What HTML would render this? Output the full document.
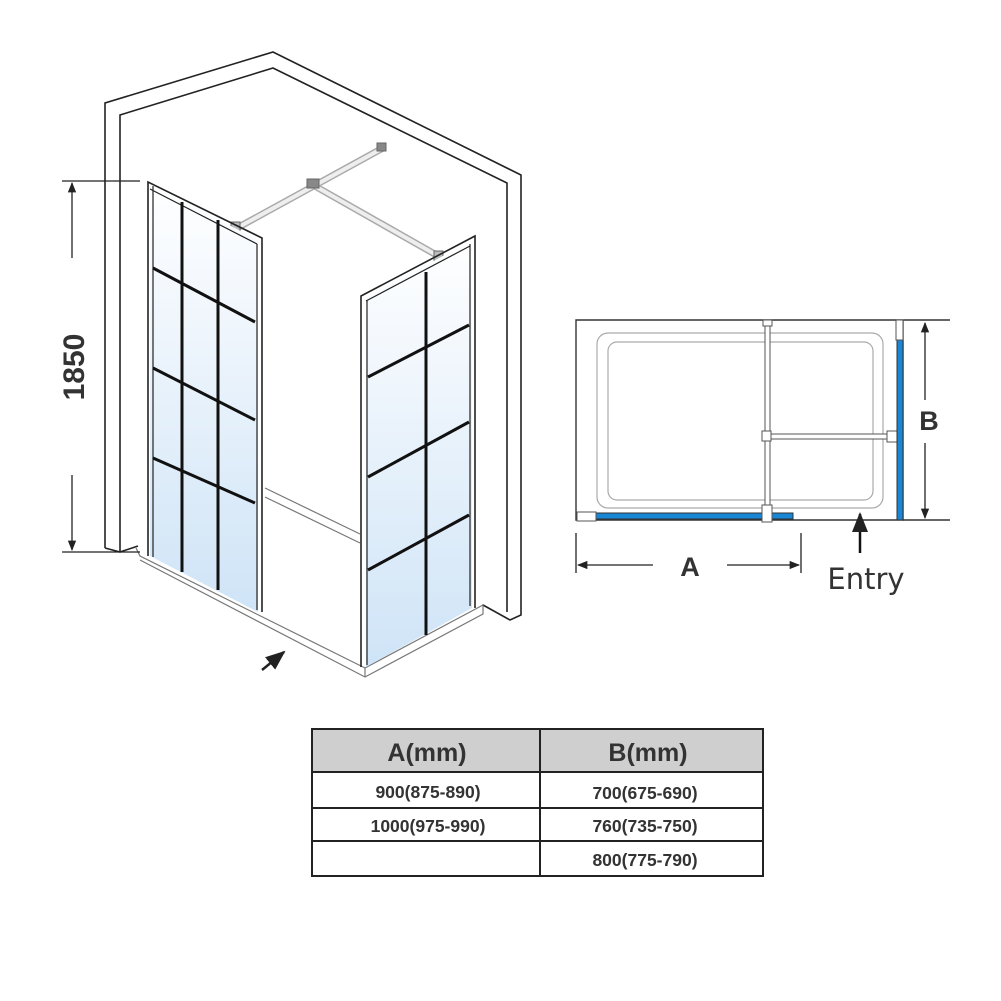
<!DOCTYPE html>
<html><head><meta charset="utf-8"><style>
html,body{margin:0;padding:0;background:#fff;width:1001px;height:1001px;overflow:hidden}
svg{display:block}
</style></head><body>
<svg width="1001" height="1001" viewBox="0 0 1001 1001" xmlns="http://www.w3.org/2000/svg">
<defs>
<linearGradient id="g" x1="0" y1="0" x2="0" y2="1">
<stop offset="0" stop-color="#ffffff"/><stop offset="0.35" stop-color="#eef5fc"/><stop offset="1" stop-color="#cfe4f7"/>
</linearGradient>
<marker id="ah" viewBox="0 0 10 10" refX="9" refY="5" markerWidth="8" markerHeight="8" orient="auto-start-reverse"><path d="M0,1 L10,5 L0,9 z" fill="#222"/></marker>
</defs>
<g fill="none" stroke="#222" stroke-width="1.6">
<polyline points="105,548 105,103 273,52 521,175 521,615 510,620 483,605"/>
<polyline points="120,552 120,115 273,68 507,183 507,612"/>
<polyline points="105,548 120,552 138,546"/>
</g>
<g fill="none" stroke="#777" stroke-width="1.2">
<polyline points="136,548 140,556 365,668 483,605"/>
<polyline points="140,560 365,677 483,614 483,604"/>
<line x1="365" y1="668" x2="365" y2="677"/>
<line x1="265" y1="488" x2="360" y2="534"/>
<line x1="265" y1="497" x2="360" y2="543"/>
</g>
<g stroke="#aaa" stroke-width="7" stroke-linecap="butt">
<line x1="237" y1="228" x2="383" y2="148"/>
<line x1="313" y1="185" x2="440" y2="257"/>
</g>
<g stroke="#eee" stroke-width="4">
<line x1="237" y1="228" x2="383" y2="148"/>
<line x1="313" y1="185" x2="440" y2="257"/>
</g>
<g stroke="#666" stroke-width="1" fill="#888">
<rect x="377" y="143" width="9" height="8"/>
<rect x="307" y="179" width="12" height="9"/>
<rect x="231" y="222" width="9" height="12" fill="#bbb"/>
<rect x="434" y="251" width="9" height="12" fill="#bbb"/>
</g>
<polygon points="150,184 258,240 258,612 150,556" fill="url(#g)"/>
<g fill="none" stroke="#222">
<polyline points="148,556 148,182 262,238 262,612" stroke-width="1.6"/>
<line x1="153" y1="186" x2="153" y2="557" stroke-width="1.2"/>
<line x1="257" y1="244" x2="257" y2="610" stroke-width="1.2"/>
<line x1="150" y1="189" x2="257" y2="244" stroke-width="1.2"/>
<g stroke-width="3" stroke="#111">
<line x1="182" y1="202" x2="182" y2="572"/>
<line x1="218" y1="220" x2="218" y2="590"/>
<line x1="153" y1="268" x2="255" y2="322"/>
<line x1="153" y1="368" x2="255" y2="420"/>
<line x1="153" y1="458" x2="255" y2="503"/>
</g>
</g>
<polygon points="366,298 472,240 472,608 366,667" fill="url(#g)"/>
<g fill="none" stroke="#222">
<polyline points="361,667 361,296 475,236 475,608" stroke-width="1.6"/>
<line x1="367" y1="300" x2="367" y2="665" stroke-width="1.2"/>
<line x1="470" y1="244" x2="470" y2="606" stroke-width="1.2"/>
<line x1="366" y1="301" x2="470" y2="246" stroke-width="1.2"/>
<g stroke-width="3" stroke="#111">
<line x1="426" y1="272" x2="426" y2="635"/>
<line x1="368" y1="377" x2="469" y2="325"/>
<line x1="368" y1="477" x2="469" y2="422"/>
<line x1="368" y1="570" x2="469" y2="515"/>
</g>
</g>
<line x1="262" y1="670" x2="284" y2="652" stroke="#222" stroke-width="2.5" marker-end="url(#ah)"/>
<g stroke="#222" stroke-width="1.3">
<line x1="62" y1="181" x2="140" y2="181"/>
<line x1="62" y1="552" x2="140" y2="552"/>
<line x1="72" y1="183" x2="72" y2="258" marker-start="url(#ah)"/>
<line x1="72" y1="475" x2="72" y2="550" marker-end="url(#ah)"/>
</g>
<text transform="translate(84,367) rotate(-90)" text-anchor="middle" font-family="Liberation Sans, sans-serif" font-weight="bold" font-size="30" fill="#333">1850</text>

<g fill="none" stroke="#333" stroke-width="1.4">
<polyline points="950,320 576,320 576,520 903,520 903,320"/>
<line x1="903" y1="520" x2="950" y2="520"/>
</g>
<rect x="597" y="333" width="286" height="175" rx="11" fill="none" stroke="#aaa" stroke-width="1.2"/>
<rect x="608" y="342" width="265" height="158" rx="9" fill="none" stroke="#aaa" stroke-width="1.2"/>
<g fill="#fff" stroke="#555" stroke-width="1">
<rect x="765" y="322" width="5" height="196"/>
<rect x="770" y="434" width="120" height="5"/>
<rect x="763" y="320" width="9" height="6"/>
<rect x="762" y="431" width="9" height="10"/>
<rect x="887" y="431" width="12" height="11"/>
</g>
<rect x="596" y="513" width="197" height="6" fill="#1a86d6" stroke="#333" stroke-width="1"/>
<rect x="577" y="512" width="19" height="9" fill="#fff" stroke="#555"/>
<rect x="762" y="505" width="10" height="17" fill="#fff" stroke="#555"/>
<rect x="897" y="340" width="6" height="180" fill="#1a86d6" stroke="#333" stroke-width="1"/>
<rect x="896" y="320" width="7" height="20" fill="#fff" stroke="#555"/>
<g stroke="#222" stroke-width="1.3">
<line x1="925" y1="323" x2="925" y2="400" marker-start="url(#ah)"/>
<line x1="925" y1="443" x2="925" y2="518" marker-end="url(#ah)"/>
<line x1="576" y1="533" x2="576" y2="573"/>
<line x1="801" y1="533" x2="801" y2="573"/>
<line x1="578" y1="565" x2="653" y2="565" marker-start="url(#ah)"/>
<line x1="727" y1="565" x2="799" y2="565" marker-end="url(#ah)"/>
</g>
<line x1="860" y1="553" x2="860" y2="514" stroke="#111" stroke-width="2.5" marker-end="url(#ah)"/>
<text x="929" y="430" text-anchor="middle" font-family="Liberation Sans, sans-serif" font-weight="bold" font-size="27" fill="#333">B</text>
<text x="690" y="576" text-anchor="middle" font-family="Liberation Sans, sans-serif" font-weight="bold" font-size="27" fill="#333">A</text>
<text x="866" y="589" text-anchor="middle" font-family="DejaVu Sans, sans-serif" font-size="29" fill="#333">Entry</text>

<rect x="312" y="729" width="451" height="43" fill="#cfcfcf"/>
<g stroke="#222" stroke-width="2" fill="none">
<rect x="312" y="729" width="451" height="147"/>
<line x1="312" y1="772" x2="763" y2="772"/>
<line x1="312" y1="808" x2="763" y2="808"/>
<line x1="312" y1="841" x2="763" y2="841"/>
<line x1="540" y1="729" x2="540" y2="876"/>
</g>
<g font-family="Liberation Sans, sans-serif" font-weight="bold" fill="#333" text-anchor="middle">
<text x="427" y="761" font-size="25">A(mm)</text>
<text x="648" y="761" font-size="25">B(mm)</text>
<text x="428" y="798" font-size="17.5">900(875-890)</text>
<text x="428" y="832" font-size="17.5">1000(975-990)</text>
<text x="645" y="799" font-size="17.5">700(675-690)</text>
<text x="645" y="832" font-size="17.5">760(735-750)</text>
<text x="645" y="866" font-size="17.5">800(775-790)</text>
</g>
</svg>
</body></html>
